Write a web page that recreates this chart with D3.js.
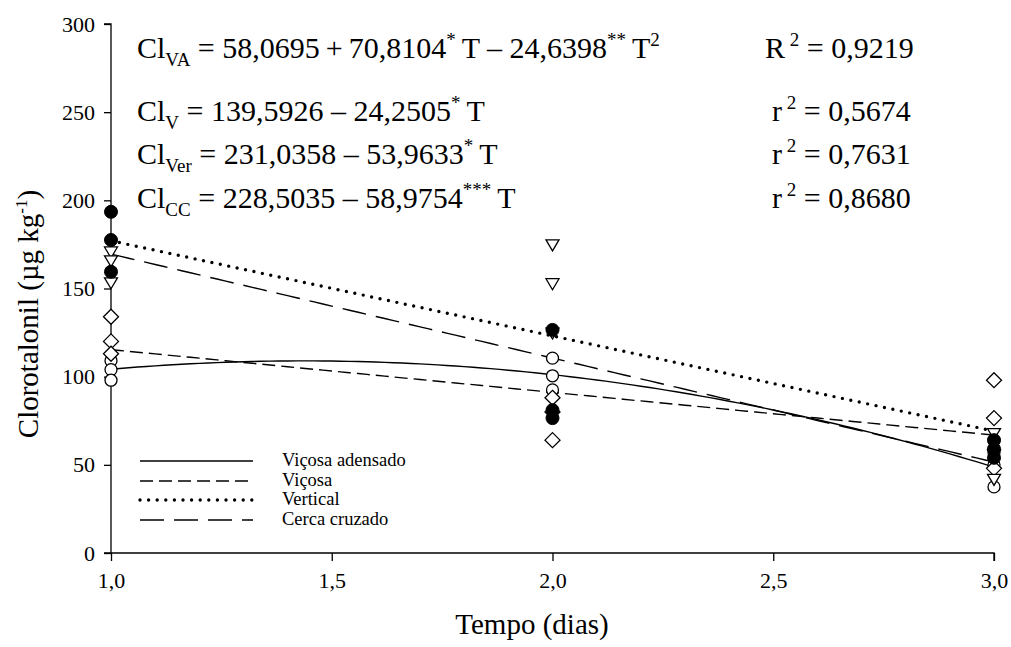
<!DOCTYPE html>
<html><head><meta charset="utf-8">
<script src="https://cdn.jsdelivr.net/npm/d3@7"></script>
<style>
body{margin:0;background:#fff;}
svg text{font-family:"Liberation Serif","Times New Roman",serif !important;fill:#000;}
</style></head>
<body><svg id="c" width="1011" height="647" font-family="Liberation Serif"></svg>
<script>
// ---- data ----
const xTicks = [1.0, 1.5, 2.0, 2.5, 3.0];
const xTickLabels = ["1,0", "1,5", "2,0", "2,5", "3,0"];
const yTicks = [0, 50, 100, 150, 200, 250, 300];
const days = [1, 2, 3];
// observed values (3 reps per day)
const vicosaAdensado = [[109, 104, 98], [110.5, 100.5, 92.5], [57, 50, 37.5]];
const vicosa = [[134, 120, 113], [88, 80, 64], [98, 76.5, 48]];
const cercaCruzado = [[171, 166, 153.5], [175, 153, 125], [68, 56, 42]];
const vertical = [[193.5, 177.5, 159.5], [126.5, 81, 76.5], [64, 59, 54]];
// regression coefficients [a, b, c] -> a + bT + cT^2
const coefVA = [58.0695, 70.8104, -24.6398];
const coefV = [139.5926, -24.2505, 0];
const coefVer = [231.0358, -53.9633, 0];
const coefCC = [228.5035, -58.9754, 0];
const legendLabels = ["Viçosa adensado", "Viçosa", "Vertical", "Cerca cruzado"];

const FONT = "Liberation Serif";
const svg = d3.select("#c");
const L = 111, R = 994, T = 24, B = 553;
const x = d3.scaleLinear().domain([1, 3]).range([L, R]);
const y = d3.scaleLinear().domain([0, 300]).range([B, T]);

// axes
const xAxis = d3.axisBottom(x).tickValues(xTicks).tickFormat((d, i) => xTickLabels[i]).tickSize(8).tickPadding(11);
const yAxis = d3.axisLeft(y).tickValues(yTicks).tickSize(7).tickPadding(9);
const gx = svg.append("g").attr("transform", `translate(0,${B})`).call(xAxis);
const gy = svg.append("g").attr("transform", `translate(${L},0)`).call(yAxis);
[gx, gy].forEach(g => {
  g.attr("font-family", FONT).attr("font-size", 22);
  g.select(".domain").attr("stroke", "#000").attr("stroke-width", 1.3);
  g.selectAll(".tick line").attr("stroke", "#000").attr("stroke-width", 1.3);
  g.selectAll(".tick text").attr("fill", "#000");
});
gx.select(".domain").attr("d", `M${L},0H${R}V8`);
gy.select(".domain").attr("d", `M-7,${T}H0V${B}H-7`);

svg.append("text").attr("x", 532).attr("y", 634).attr("text-anchor", "middle")
  .attr("font-family", FONT).attr("font-size", 29).text("Tempo (dias)");
const yl = svg.append("text").attr("transform", "translate(38,314) rotate(-90)").attr("text-anchor", "middle")
  .attr("font-family", FONT).attr("font-size", 29);
yl.append("tspan").text("Clorotalonil (µg kg");
yl.append("tspan").attr("dy", -11).attr("font-size", 17).text("-1");
yl.append("tspan").attr("dy", 11).text(")");

// regression curves
const styles = [
  {coef: coefVA, dash: null, w: 1.4, cap: "butt"},
  {coef: coefV, dash: "13,6", w: 1.4, cap: "butt"},
  {coef: coefVer, dash: "0,8.6", w: 3.4, cap: "round"},
  {coef: coefCC, dash: "24,10", w: 1.4, cap: "butt"}
];
const tGrid = d3.range(1, 3.0001, 0.02);
const line = d3.line().x(d => x(d[0])).y(d => y(d[1]));
styles.forEach(s => {
  const pts = tGrid.map(t => [t, s.coef[0] + s.coef[1] * t + s.coef[2] * t * t]);
  svg.append("path").attr("d", line(pts)).attr("fill", "none").attr("stroke", "#000")
    .attr("stroke-width", s.w).attr("stroke-dasharray", s.dash).attr("stroke-linecap", s.cap);
});

// markers
function flat(data) { const out = []; data.forEach((reps, i) => reps.forEach(v => out.push([days[i], v]))); return out; }
const gm = svg.append("g");
gm.selectAll(".va").data(flat(vicosaAdensado)).enter().append("circle")
  .attr("cx", d => x(d[0])).attr("cy", d => y(d[1])).attr("r", 6)
  .attr("fill", "#fff").attr("stroke", "#000").attr("stroke-width", 1.3);
gm.selectAll(".v").data(flat(vicosa)).enter().append("path")
  .attr("transform", d => `translate(${x(d[0])},${y(d[1])})`)
  .attr("d", "M0,-7.5L7.5,0L0,7.5L-7.5,0Z")
  .attr("fill", "#fff").attr("stroke", "#000").attr("stroke-width", 1.3);
gm.selectAll(".cc").data(flat(cercaCruzado)).enter().append("path")
  .attr("transform", d => `translate(${x(d[0])},${y(d[1])})`)
  .attr("d", "M-6.5,-4.5L6.5,-4.5L0,6.5Z")
  .attr("fill", "#fff").attr("stroke", "#000").attr("stroke-width", 1.3);
gm.selectAll(".ver").data(flat(vertical)).enter().append("circle")
  .attr("cx", d => x(d[0])).attr("cy", d => y(d[1])).attr("r", 6.5)
  .attr("fill", "#000").attr("stroke", "#000");

// legend
const legY = [461, 481, 500, 520];
styles.forEach((s, i) => {
  svg.append("line").attr("x1", 140).attr("x2", 253).attr("y1", legY[i]).attr("y2", legY[i])
    .attr("stroke", "#000").attr("stroke-width", s.w).attr("stroke-dasharray", s.dash)
    .attr("stroke-linecap", s.cap);
  svg.append("text").attr("x", 282).attr("y", legY[i] + 5).attr("font-family", FONT)
    .attr("font-size", 18.5).text(legendLabels[i]);
});

// equations
const th = "\u2009";
const eqs = [
  {y: 58, parts: [["Cl",0],["VA",-1],[" = 58,0695" + th + "+" + th + "70,8104",0],["*",1],[th + "T – 24,6398",0],["**",1],[th + "T",0],["2",1]], r: ["R","2"," = 0,9219"], rx: 765},
  {y: 121, parts: [["Cl",0],["V",-1],[" = 139,5926 – 24,2505",0],["*",1],[th + "T",0]], r: ["r","2"," = 0,5674"], rx: 772},
  {y: 164, parts: [["Cl",0],["Ver",-1],[" = 231,0358 – 53,9633",0],["*",1],[th + "T",0]], r: ["r","2"," = 0,7631"], rx: 772},
  {y: 208, parts: [["Cl",0],["CC",-1],[" = 228,5035 – 58,9754",0],["***",1],[th + "T",0]], r: ["r","2"," = 0,8680"], rx: 772}
];
eqs.forEach(e => {
  const t = svg.append("text").attr("x", 137).attr("y", e.y).attr("font-family", FONT)
    .attr("font-size", 30).attr("xml:space", "preserve");
  let cur = 0;
  e.parts.forEach(([s, lvl]) => {
    const dy = lvl === -1 ? 8 : lvl === 1 ? -12 : 0;
    const ts = t.append("tspan").attr("dy", dy - cur).text(s);
    if (lvl !== 0) ts.attr("font-size", 19);
    cur = dy;
  });
  const r = svg.append("text").attr("x", e.rx).attr("y", e.y).attr("font-family", FONT)
    .attr("font-size", 30).attr("xml:space", "preserve");
  r.append("tspan").text(e.r[0]);
  r.append("tspan").attr("dy", -12).attr("font-size", 19).text(" " + e.r[1]);
  r.append("tspan").attr("dy", 12).text(e.r[2]);
});
</script></body></html>
